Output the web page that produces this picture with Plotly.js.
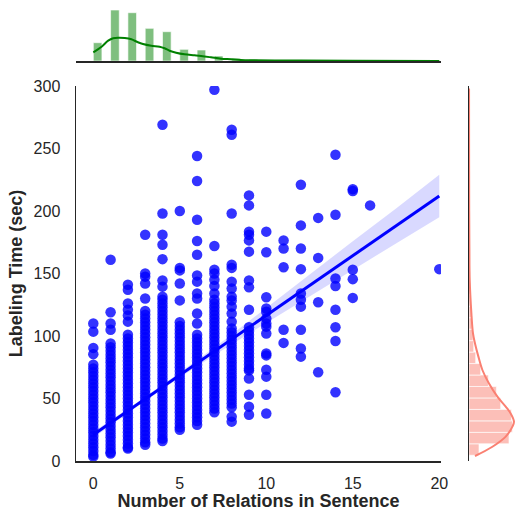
<!DOCTYPE html>
<html>
<head>
<meta charset="utf-8">
<script src="https://cdn.plot.ly/plotly-3.0.1.min.js"></script>
<style>html,body{margin:0;padding:0;background:#fff;}#chart{width:516px;height:511px;}</style>
</head>
<body>
<div id="chart"></div>
<script>
// ---- Scatter data: labeling time (sec) for each number of relations ----
var relations = [0, 1, 2, 3, 4, 5, 6, 7, 8, 9, 10, 11, 12, 13, 14, 15, 16, 20];
var timeRel0 = [110, 103.5, 90.5, 85.5, 77, 74, 71, 68, 65, 62, 59, 56, 53, 50, 47, 44, 41, 38, 35, 32, 29, 26, 23, 20, 17, 14, 11, 8, 5, 3.5];
var timeRel1 = [161, 119, 110, 105, 94, 91, 88, 85, 82, 79, 76, 73, 70, 67, 64, 61, 58, 55, 52, 49, 46, 43, 40, 37, 34, 31, 28, 25, 22, 19, 16, 13, 10, 7, 6];
var timeRel2 = [141, 137, 126, 121, 116.5, 111.5, 101, 98, 95, 92, 89, 86, 83, 80, 77, 74, 71, 68, 65, 62, 59, 56, 53, 50, 47, 44, 41, 38, 35, 32, 29, 26, 23, 20, 17, 14, 11, 10];
var timeRel3 = [181, 150, 147.5, 142, 130, 120, 117, 114, 111, 108, 105, 102, 99, 96, 93, 90, 87, 84, 81, 78, 75, 72, 69, 66, 63, 60, 57, 54, 51, 48, 45, 42, 39, 36, 33, 30, 27, 24, 21, 18, 15, 13];
var timeRel4 = [269, 198, 181, 173, 161.5, 144.5, 139.5, 131.5, 129, 126, 123, 120, 117, 114, 111, 108, 105, 102, 99, 96, 93, 90, 87, 84, 81, 78, 75, 72, 69, 66, 63, 60, 57, 54, 51, 48, 45, 42, 39, 36, 33, 30, 27, 24, 21, 18, 16];
var timeRel5 = [200, 154.5, 152.5, 142, 128.5, 111, 108, 105, 102, 99, 96, 93, 90, 87, 84, 81, 78, 75, 72, 69, 66, 63, 60, 57, 54, 51, 48, 45, 42, 39, 36, 33, 30, 27, 25];
var timeRel6 = [244, 224, 193, 176, 165, 148.5, 143.5, 134, 130, 118, 110, 101, 98, 95, 92, 89, 86, 83, 80, 77, 74, 71, 68, 65, 62, 59, 56, 53, 50, 47, 44, 41, 38, 35, 32, 29];
var timeRel7 = [297, 172, 153, 150, 145, 140, 134, 129, 126, 123, 120, 117, 114, 111, 108, 105, 102, 99, 96, 93, 90, 87, 84, 81, 78, 75, 72, 69, 66, 63, 60, 57, 54, 51, 48, 45, 42, 39];
var timeRel8 = [265, 261, 198, 157, 154.5, 143.5, 138, 131.5, 128.5, 123.5, 118, 111.5, 106, 103, 100, 97, 94, 91, 88, 85, 82, 79, 76, 73, 70, 67, 64, 61, 58, 55, 52, 49, 46, 43, 35.5, 31.5];
var timeRel9 = [212.5, 204.5, 183.5, 181, 176.5, 167.5, 144.5, 139, 121, 107, 104, 101, 98, 95, 92, 89, 86, 83, 80, 77, 74, 72.5, 66, 53, 43.5, 37];
var timeRel10 = [183.5, 167, 131, 122, 119.5, 114, 110, 107.5, 102, 86, 84.5, 73, 67.5, 53, 38];
var timeRel11 = [176.5, 170, 155, 105, 94.5];
var timeRel12 = [221, 188.5, 170, 153.5, 134, 129, 123.5, 105, 90, 83.5];
var timeRel13 = [194.5, 162.5, 127, 71];
var timeRel14 = [245, 197, 146, 140, 121, 107, 96, 55];
var timeRel15 = [216, 217.5, 153, 145.5, 130.5];
var timeRel16 = [204.5];
var timeRel20 = [153.5];

// ---- Regression fit and confidence band ----
var fitX = [0, 2.5, 5, 7.5, 10, 12.5, 15, 17.5, 20];
var fitY = [21, 44.9, 68.8, 92.6, 116.5, 140.4, 164.3, 188.1, 212];
var fitUpper = [23.5, 46.4, 70.8, 96.1, 122.5, 149.4, 175.8, 202.1, 229];
var fitLower = [18.5, 43.4, 66.8, 89.1, 110.5, 131.4, 152.8, 174.1, 195];

// ---- Top marginal: histogram of relations (relative counts) and KDE ----
var relBins = [0, 1, 2, 3, 4, 5, 6, 7, 8, 9, 10, 11, 12, 13, 14, 15, 16, 17, 18, 19, 20];
var relCounts = [183, 510, 483, 327, 293, 117, 110, 50, 27, 17, 10, 6, 7, 4, 5, 4, 1, 0, 0, 0, 1];
var relKdeX = [0, 0.48, 0.86, 1.15, 1.43, 1.82, 2.2, 2.58, 2.87, 3.35, 3.83, 4.12, 4.41, 4.79, 5.27, 5.85, 6.23, 6.8, 7.38, 7.96, 8.53, 9.3, 10.5, 12, 15, 20];
var relKdeY = [87, 143, 203, 227, 233, 230, 217, 187, 170, 153, 143, 127, 103, 83, 67, 57, 50, 37, 23, 17, 10, 7, 5, 4, 2, 1];

// ---- Right marginal: histogram of labeling time (relative counts) and KDE ----
var timeBinStart = 4.6;
var timeBinWidth = 9.17;
var timeCounts = [100, 400, 434, 424, 317, 274, 194, 117, 67, 47, 40, 30, 24, 18, 14, 11, 8, 6, 5, 4, 4, 3, 3, 2, 2, 1, 1, 1, 2, 1, 1, 1];
var timeKdeY = [4, 11.4, 19.5, 27.5, 31.5, 38, 43.5, 51.5, 62, 72.8, 83.5, 94, 102, 118, 145, 170, 200, 250, 298];
var timeKdeX = [60, 234, 367, 434, 450, 417, 367, 284, 200, 134, 94, 60, 40, 24, 7, 4, 2, 1, 0.5];

var axisColor = '#262626';
var fontFam = 'Liberation Sans, Arial, sans-serif';

var cols = [timeRel0, timeRel1, timeRel2, timeRel3, timeRel4, timeRel5, timeRel6, timeRel7, timeRel8,
            timeRel9, timeRel10, timeRel11, timeRel12, timeRel13, timeRel14, timeRel15, timeRel16, timeRel20];
var sx = [], sy = [];
cols.forEach(function (c, i) {
  c.forEach(function (v) { sx.push(relations[i]); sy.push(v); });
});

var timeBins = timeCounts.map(function (_, i) { return timeBinStart + i * timeBinWidth; });

var traces = [
  {
    type: 'scatter', mode: 'markers', x: sx, y: sy, xaxis: 'x', yaxis: 'y',
    marker: { color: '#0000ff', size: 10.5, opacity: 0.8, line: { width: 0 } },
    hoverinfo: 'x+y', showlegend: false
  },
  {
    type: 'scatter', mode: 'lines', x: fitX, y: fitLower, xaxis: 'x', yaxis: 'y',
    line: { width: 0, color: 'rgba(0,0,255,0)' }, showlegend: false, hoverinfo: 'skip'
  },
  {
    type: 'scatter', mode: 'lines', x: fitX, y: fitUpper, xaxis: 'x', yaxis: 'y',
    line: { width: 0, color: 'rgba(0,0,255,0)' }, fill: 'tonexty', fillcolor: 'rgba(0,0,255,0.15)',
    showlegend: false, hoverinfo: 'skip'
  },
  {
    type: 'scatter', mode: 'lines', x: fitX, y: fitY, xaxis: 'x', yaxis: 'y',
    line: { width: 3, color: '#0000ff' }, showlegend: false
  },
  {
    type: 'bar', x: relBins, y: relCounts, xaxis: 'x2', yaxis: 'y2', width: 0.5, offset: 0,
    marker: { color: 'rgba(0,128,0,0.5)', line: { color: 'rgba(255,255,255,0.8)', width: 0.8 } },
    showlegend: false
  },
  {
    type: 'scatter', mode: 'lines', x: relKdeX, y: relKdeY, xaxis: 'x2', yaxis: 'y2',
    line: { color: '#008000', width: 2, shape: 'spline' }, showlegend: false
  },
  {
    type: 'bar', orientation: 'h', y: timeBins, x: timeCounts, xaxis: 'x3', yaxis: 'y3',
    width: timeBinWidth, offset: 0,
    marker: { color: 'rgba(250,128,114,0.5)', line: { color: 'rgba(255,255,255,0.8)', width: 0.8 } },
    showlegend: false
  },
  {
    type: 'scatter', mode: 'lines', x: timeKdeX, y: timeKdeY, xaxis: 'x3', yaxis: 'y3',
    line: { color: '#fa8072', width: 2, shape: 'spline' }, showlegend: false
  }
];

var xDom = [76 / 516, 441 / 516];
var yDom = [50 / 511, 425 / 511];

var layout = {
  width: 516, height: 511,
  margin: { l: 0, r: 0, t: 0, b: 0 },
  paper_bgcolor: '#ffffff', plot_bgcolor: '#ffffff',
  font: { family: fontFam, color: axisColor },
  showlegend: false,
  bargap: 0,
  xaxis: {
    domain: xDom, range: [-1, 20.1], anchor: 'y',
    tickvals: [0, 5, 10, 15, 20], ticks: 'outside', ticklen: 7, tickcolor: 'rgba(0,0,0,0)',
    tickfont: { size: 16, color: axisColor },
    showline: true, linecolor: axisColor, linewidth: 1.5, showgrid: false, zeroline: false,
    title: { text: 'Number of Relations in Sentence', font: { size: 18, weight: 'bold', color: axisColor }, standoff: 2 }
  },
  yaxis: {
    domain: yDom, range: [0, 300], anchor: 'x',
    tickvals: [0, 50, 100, 150, 200, 250, 300], ticks: 'outside', ticklen: 11, tickcolor: 'rgba(0,0,0,0)',
    tickfont: { size: 16, color: axisColor },
    showline: true, linecolor: axisColor, linewidth: 1.5, showgrid: false, zeroline: false,
    title: { text: 'Labeling Time (sec)', font: { size: 18, weight: 'bold', color: axisColor }, standoff: 6 }
  },
  xaxis2: {
    domain: xDom, range: [-1, 20.1], anchor: 'y2',
    showticklabels: false, ticks: '', showline: true, linecolor: axisColor, linewidth: 1.5,
    showgrid: false, zeroline: false
  },
  yaxis2: {
    domain: [450 / 511, 1], range: [0, 610], anchor: 'x2', visible: false
  },
  xaxis3: {
    domain: [469 / 516, 1], range: [0, 470], anchor: 'y3', visible: false
  },
  yaxis3: {
    domain: yDom, range: [0, 300], anchor: 'x3',
    showticklabels: false, ticks: '', showline: true, linecolor: axisColor, linewidth: 1.5,
    showgrid: false, zeroline: false
  }
};

Plotly.newPlot('chart', traces, layout, { displayModeBar: false, staticPlot: true });
</script>
</body>
</html>
